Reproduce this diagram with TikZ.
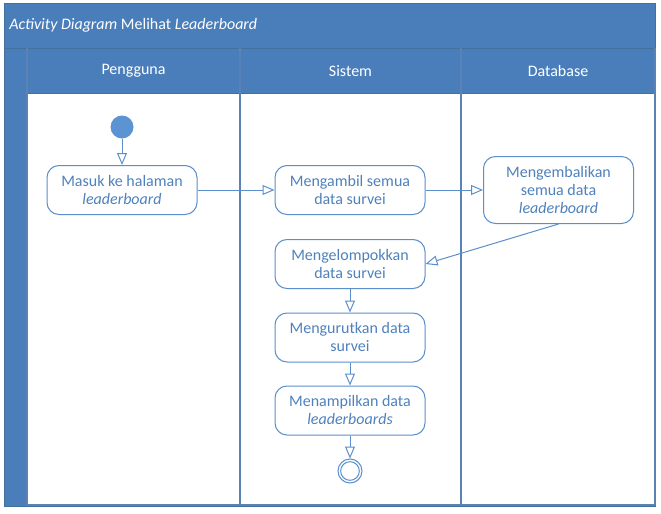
\documentclass[tikz,border=0pt]{standalone}
\usepackage{fontspec}
\setmainfont{Carlito}
\usetikzlibrary{arrows.meta}
\definecolor{band}{HTML}{4A7EBB}
\definecolor{bandline}{HTML}{41719C}
\definecolor{lanel}{HTML}{5A82B4}
\definecolor{nodeline}{HTML}{5B8FCB}
\definecolor{nodetext}{HTML}{4F81BD}
\definecolor{startfill}{HTML}{5B93D3}
\tikzset{
  act/.style={draw=nodeline, line width=0.75pt, rounded corners=9pt, fill=white,
    minimum width=112.5pt, minimum height=36.75pt, align=center,
    text=nodetext, font=\fontsize{12}{13.5}\selectfont, inner sep=1pt},
  flow/.style={draw=nodeline, line width=0.75pt,
    -{Triangle[open, length=9pt, width=7.5pt, fill=white]}},
  lanehead/.style={text=white, font=\fontsize{12}{13.5}\selectfont},
}
\begin{document}
\begin{tikzpicture}[x=0.75pt, y=-0.75pt]
\useasboundingbox (0,0) rectangle (661,514);
% frame
\fill[band] (4,3) rectangle (655,506);
\draw[bandline, line width=0.75pt] (4,3) rectangle (655,506);
\draw[bandline, line width=0.75pt] (4,48) -- (655,48);
\draw[bandline, line width=0.75pt] (27,93) -- (655,93);
% lane bodies
\fill[white] (27.5,93.5) rectangle (654.5,504.5);
\draw[lanel, line width=1pt] (27,48) -- (27,505);
\draw[lanel, line width=1pt] (240,48) -- (240,505);
\draw[lanel, line width=1pt] (461,48) -- (461,505);
\draw[lanel, line width=1pt] (655,48) -- (655,505);
\draw[lanel, line width=1.5pt] (27,505) -- (655,505);
% title and headers
\node[anchor=west, text=white, font=\fontsize{12}{14}\selectfont, inner sep=0pt] (title) at (9,25)
  {\textit{Activity Diagram} Melihat \textit{Leaderboard}};
\node[lanehead] (h1) at (133.5,71) {Pengguna};
\node[lanehead] (h2) at (350.5,71) {Sistem};
\node[lanehead] (h3) at (558,71) {Database};
% nodes
\node[circle, fill=startfill, minimum size=17.25pt, inner sep=0pt] (start) at (122,127) {};
\node[act] (masuk) at (122,190) {Masuk ke halaman\\\textit{leaderboard}};
\node[act] (ambil) at (350,190) {Mengambil semua\\data survei};
\node[act, minimum height=50.25pt] (kembali) at (558.5,190) {Mengembalikan\\semua data\\\textit{leaderboard}};
\node[act] (kelompok) at (350,264) {Mengelompokkan\\data survei};
\node[act] (urut) at (350,337.5) {Mengurutkan data\\survei};
\node[act] (tampil) at (350,410.5) {Menampilkan data\\\textit{leaderboards}};
\node[circle, draw=nodeline, line width=0.75pt, minimum size=18pt, inner sep=0pt] (end) at (350,471) {};
\node[circle, draw=nodeline, line width=0.75pt, minimum size=14pt, inner sep=0pt] (endin) at (350,471) {};
% connectors
\draw[flow] (start) -- (masuk);
\draw[flow] (masuk) -- (ambil);
\draw[flow] (ambil) -- (kembali);
\draw[flow] (kembali.south) -- (kelompok.east);
\draw[flow] (kelompok) -- (urut);
\draw[flow] (urut) -- (tampil);
\draw[flow] (tampil) -- (end);
\end{tikzpicture}
\end{document}
